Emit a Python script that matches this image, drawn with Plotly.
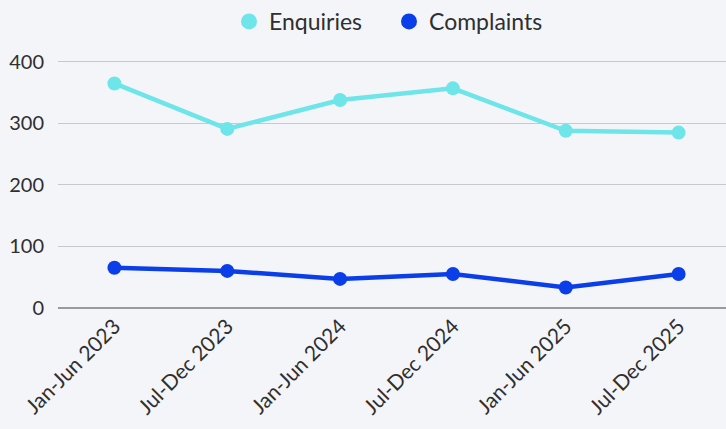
import plotly.graph_objects as go

periods = ["Jan-Jun 2023", "Jul-Dec 2023", "Jan-Jun 2024", "Jul-Dec 2024", "Jan-Jun 2025", "Jul-Dec 2025"]
enquiries = [365, 291, 338, 357, 288, 285]
complaints = [65, 60, 47, 55, 33, 55]

c_enq = "#6ee5e8"
c_com = "#0a3ee8"

fig = go.Figure()
fig.add_trace(go.Scatter(x=periods, y=enquiries, mode="lines+markers", name="Enquiries",
                         line=dict(color=c_enq, width=4.5), marker=dict(size=14, color=c_enq),
                         showlegend=False))
fig.add_trace(go.Scatter(x=periods, y=complaints, mode="lines+markers", name="Complaints",
                         line=dict(color=c_com, width=4.5), marker=dict(size=14, color=c_com),
                         showlegend=False))
for nm, c in [("Enquiries", c_enq), ("Complaints", c_com)]:
    fig.add_trace(go.Scatter(x=[None], y=[None], mode="markers", name=nm,
                             marker=dict(size=20, color=c)))

fig.update_layout(
    width=726, height=429,
    paper_bgcolor="#f4f5f9", plot_bgcolor="#f4f5f9",
    margin=dict(l=58, r=0, t=57, b=120),
    font=dict(family="Lato", size=20, color="#2f2f2f"),
    legend=dict(orientation="h", xref="container", x=229 / 726, xanchor="left",
                y=1.0, yanchor="top", yref="container", font=dict(size=23),
                itemsizing="trace", itemwidth=30, entrywidth=115, entrywidthmode="pixels"),
    xaxis=dict(type="category", range=[-0.5, 5.42], tickangle=-45, showgrid=False,
               showline=False, ticks="", tickfont=dict(size=21)),
    yaxis=dict(range=[-2, 408], tickvals=[0, 100, 200, 300, 400], gridcolor="#c9c9cd",
               gridwidth=1, zeroline=True, zerolinecolor="#9a9a9e", zerolinewidth=2,
               ticks="", tickfont=dict(size=20), ticklabelstandoff=13),
)

fig.write_html("out.html", config={"displayModeBar": False},
               post_script="document.body.style.margin='0';document.body.style.background='#f4f5f9';")
